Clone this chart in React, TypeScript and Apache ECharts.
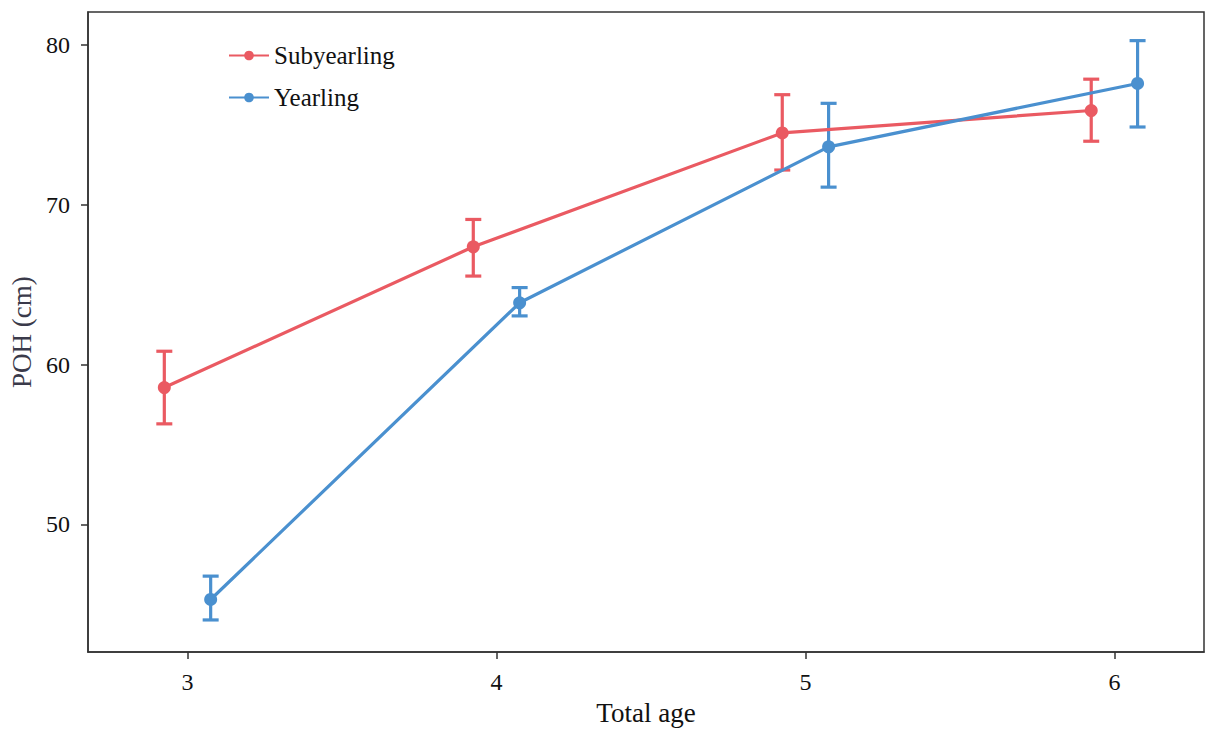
import React, { useEffect, useRef } from "react";
import * as echarts from "echarts";

const ages = [3, 4, 5, 6];
const dodge = 0.075;
const subMean = [58.56, 67.36, 74.48, 75.88];
const subLow = [56.29, 65.53, 72.16, 73.96];
const subHigh = [60.83, 69.07, 76.87, 77.84];
const yrMean = [45.31, 63.86, 73.61, 77.57];
const yrLow = [44.03, 63.04, 71.09, 74.85];
const yrHigh = [46.77, 64.81, 76.33, 80.25];
const xTicks = [3, 4, 5, 6];
const yTicks = [50, 60, 70, 80];

const RED = "#EA5A62";
const BLUE = "#4A90CF";
const FONT = "Liberation Serif";

function errSeries(name: string, color: string, offset: number, low: number[], high: number[]) {
  const data = ages.map((a, i) => [a + offset, low[i], high[i]]);
  return {
    type: "custom",
    name: name + "_err",
    silent: true,
    z: 3,
    renderItem: (params: any, api: any) => {
      const x = api.value(0);
      const lo = api.coord([x, api.value(1)]);
      const hi = api.coord([x, api.value(2)]);
      const hw = 8;
      const style = { stroke: color, lineWidth: 3.2 };
      return {
        type: "group",
        children: [
          { type: "line", shape: { x1: lo[0], y1: lo[1], x2: hi[0], y2: hi[1] }, style },
          { type: "line", shape: { x1: lo[0] - hw, y1: lo[1], x2: lo[0] + hw, y2: lo[1] }, style },
          { type: "line", shape: { x1: hi[0] - hw, y1: hi[1], x2: hi[0] + hw, y2: hi[1] }, style },
        ],
      };
    },
    data,
  };
}

export default function App() {
  const ref = useRef<HTMLDivElement>(null);
  useEffect(() => {
    if (!ref.current) return;
    const chart = echarts.init(ref.current, null, { renderer: "svg" });
    chart.setOption({
      animation: false,
      textStyle: { fontFamily: FONT },
      legend: {
        left: 223,
        top: 38,
        orient: "vertical",
        itemWidth: 40,
        itemHeight: 12,
        itemGap: 17,
        textStyle: { fontFamily: FONT, fontSize: 25, color: "#111" },
        data: ["Subyearling", "Yearling"],
      },
      grid: {
        left: 88,
        top: 12,
        right: 2,
        bottom: 72,
        show: true,
        borderColor: "#333",
        borderWidth: 1.5,
        backgroundColor: "#fff",
      },
      xAxis: {
        type: "value",
        min: 2.678,
        max: 6.29,
        name: "Total age",
        nameLocation: "middle",
        nameGap: 45,
        nameTextStyle: { fontFamily: FONT, fontSize: 27, color: "#111" },
        axisLine: { show: true, lineStyle: { color: "#333", width: 1.5 } },
        axisTick: { show: true, length: 7, customValues: xTicks, lineStyle: { color: "#333", width: 1.5 } },
        axisLabel: { customValues: xTicks, margin: 18, fontFamily: FONT, fontSize: 24, color: "#111" },
        splitLine: { show: false },
      },
      yAxis: {
        type: "value",
        min: 42.02,
        max: 82.04,
        name: "POH (cm)",
        nameLocation: "middle",
        nameGap: 44,
        nameTextStyle: { fontFamily: FONT, fontSize: 27, color: "#3a3a4a" },
        axisLine: { show: true, lineStyle: { color: "#333", width: 1.5 } },
        axisTick: { show: true, length: 7, customValues: yTicks, lineStyle: { color: "#333", width: 1.5 } },
        axisLabel: { customValues: yTicks, margin: 18, fontFamily: FONT, fontSize: 24, color: "#111" },
        splitLine: { show: false },
      },
      series: [
        errSeries("Subyearling", RED, -dodge, subLow, subHigh),
        errSeries("Yearling", BLUE, dodge, yrLow, yrHigh),
        {
          type: "line",
          name: "Subyearling",
          data: ages.map((a, i) => [a - dodge, subMean[i]]),
          symbol: "circle",
          symbolSize: 13,
          itemStyle: { color: RED },
          lineStyle: { color: RED, width: 3.2 },
          z: 4,
        },
        {
          type: "line",
          name: "Yearling",
          data: ages.map((a, i) => [a + dodge, yrMean[i]]),
          symbol: "circle",
          symbolSize: 13,
          itemStyle: { color: BLUE },
          lineStyle: { color: BLUE, width: 3.2 },
          z: 4,
        },
      ],
    });
    return () => chart.dispose();
  }, []);
  return (
    <div
      ref={ref}
      style={{ position: "fixed", left: 0, top: 0, width: 1206, height: 731, background: "#fff" }}
    />
  );
}
